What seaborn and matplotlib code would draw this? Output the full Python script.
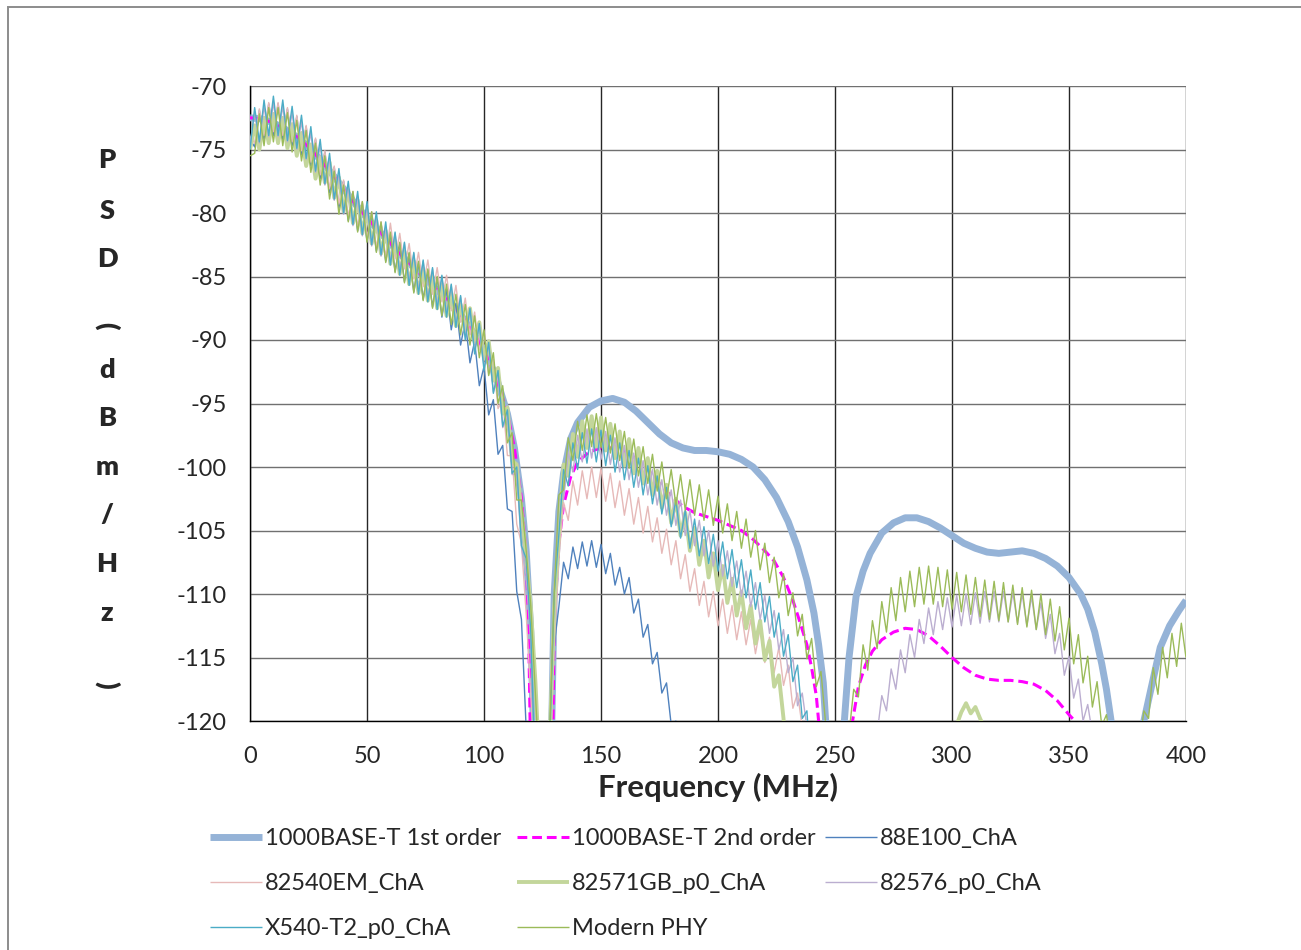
import numpy as np
import matplotlib
matplotlib.use("Agg")
import matplotlib.pyplot as plt
from matplotlib.patches import Rectangle
from matplotlib.ticker import MultipleLocator
import seaborn as sns

# ---------------- data ----------------
# smooth theoretical masks: (frequency MHz, PSD dBm/Hz)
first_f = [0, 5, 10, 15, 20, 25, 30, 35, 40, 45, 50, 55, 60, 65, 70, 75, 80, 85, 90, 95,
           100, 105, 110, 113, 116, 118, 120, 121, 122, 128, 129, 130, 132, 134, 137, 140,
           145, 150, 155, 160, 165, 170, 175, 180, 185, 190, 195, 200, 205, 210, 215, 220,
           225, 230, 234, 238, 241, 243, 245, 246, 247, 253, 254, 256, 259, 262, 265, 270,
           275, 280, 285, 290, 295, 300, 305, 310, 315, 320, 325, 330, 335, 340, 345, 350,
           355, 358, 361, 364, 366, 368, 369, 381, 382, 385, 389, 393, 397, 400]
first_v = [-72.5, -72.6, -72.9, -73.4, -74.0, -74.8, -75.8, -76.9, -78.1, -79.3, -80.4, -81.4,
           -82.4, -83.4, -84.3, -85.2, -86.1, -87.0, -88.0, -89.3, -90.8, -92.8, -95.8, -98.5,
           -102.5, -106.5, -113.0, -120.0, -128.0, -128.0, -120.0, -110.0, -103.5, -100.5,
           -97.8, -96.5, -95.3, -94.8, -94.6, -94.9, -95.6, -96.5, -97.4, -98.1, -98.5, -98.7,
           -98.7, -98.8, -99.0, -99.4, -100.0, -101.0, -102.4, -104.3, -106.3, -108.9, -111.5,
           -114.0, -117.0, -120.0, -128.0, -128.0, -120.0, -115.0, -110.2, -108.2, -106.8,
           -105.2, -104.4, -104.0, -104.0, -104.3, -104.8, -105.4, -106.0, -106.4, -106.7,
           -106.8, -106.7, -106.6, -106.8, -107.2, -107.8, -108.7, -110.0, -111.2, -113.0,
           -115.5, -117.5, -120.0, -128.0, -128.0, -120.0, -117.5, -114.2, -112.5, -111.3, -110.5]

second_f = [0, 5, 10, 15, 20, 25, 30, 35, 40, 45, 50, 55, 60, 65, 70, 75, 80, 85, 90, 95,
            100, 105, 110, 113, 116, 118, 119, 119.7, 120, 129, 129.5, 130, 132, 134, 137,
            140, 145, 150, 155, 160, 165, 170, 175, 180, 185, 190, 195, 200, 205, 210, 215,
            220, 224, 228, 232, 235, 238, 240, 242, 243, 244, 256, 257.5, 260, 263, 266, 270,
            275, 280, 285, 290, 295, 300, 305, 310, 315, 320, 325, 330, 335, 340, 345, 350,
            352.5, 354]
second_v = [-72.5, -72.6, -72.9, -73.4, -74.0, -74.8, -75.8, -76.9, -78.1, -79.3, -80.4, -81.4,
            -82.4, -83.4, -84.3, -85.2, -86.1, -87.0, -88.0, -89.3, -90.8, -92.8, -95.8, -98.5,
            -102.5, -107.0, -112.0, -120.0, -128.0, -128.0, -120.0, -112.0, -106.0, -103.0,
            -100.8, -99.6, -98.8, -98.5, -98.5, -98.8, -99.3, -100.2, -101.3, -102.3, -103.1,
            -103.6, -103.9, -104.2, -104.6, -105.0, -105.7, -106.6, -107.4, -108.7, -110.5,
            -112.2, -114.0, -115.8, -118.0, -120.0, -128.0, -128.0, -120.0, -117.3, -115.6,
            -114.5, -113.6, -113.0, -112.7, -112.8, -113.3, -114.1, -115.0, -115.8, -116.4,
            -116.7, -116.8, -116.8, -116.9, -117.1, -117.6, -118.4, -119.5, -120.0, -128.0]

# measured PHY spectra, one value every 2 MHz starting at 0 MHz
step_mhz = 2
e100_v = [-74.2, -74.8, -71.9, -74.2, -71.4, -73.9, -71.4, -74.2, -71.8, -74.7,
          -72.4, -75.4, -73.2, -76.3, -74.2, -77.3, -75.2, -78.4, -76.4, -79.6,
          -77.5, -80.6, -78.4, -81.4, -79.2, -82.2, -80.0, -83.0, -80.8, -83.8,
          -81.6, -84.6, -82.4, -85.4, -83.2, -86.2, -83.9, -86.8, -84.5, -87.4,
          -85.1, -88.2, -86.0, -89.2, -87.1, -90.4, -88.5, -91.8, -90.1, -93.6,
          -92.1, -95.9, -94.7, -99.0, -98.3, -103.3, -103.5, -109.8, -112.0, -120.5,
          -125.0, -125.0, -125.0, -125.0, -122.0, -114.0, -111.0, -107.5, -108.8, -106.3,
          -108.0, -105.9, -107.8, -105.8, -107.9, -106.1, -108.4, -106.8, -109.3, -107.9,
          -110.0, -108.7, -111.5, -110.4, -113.4, -112.4, -115.5, -114.6, -117.8, -117.0,
          -120.3, -120.0, -125.0]

em82540_v = [-74.0, -74.5, -71.8, -73.9, -71.3, -73.6, -71.3, -73.9, -71.7, -74.4,
             -72.3, -75.1, -73.1, -76.0, -74.1, -77.0, -75.1, -78.1, -76.3, -79.3,
             -77.4, -80.3, -78.3, -81.1, -79.1, -81.9, -79.9, -82.7, -80.7, -83.5,
             -80.8, -83.6, -81.6, -84.4, -82.4, -85.2, -83.1, -85.8, -83.7, -86.4,
             -84.3, -87.0, -84.9, -87.7, -85.7, -88.6, -86.7, -89.6, -87.8, -90.8,
             -89.3, -92.7, -91.5, -95.4, -94.7, -99.1, -99.1, -104.5, -106.0, -111.5,
             -118.0, -125.0, -125.0, -125.0, -125.0, -114.0, -107.2, -102.8, -104.2, -101.1,
             -103.0, -100.3, -102.5, -100.0, -102.4, -100.1, -102.7, -100.5, -103.2, -101.1,
             -103.8, -101.7, -104.5, -102.4, -105.2, -103.1, -105.9, -104.0, -106.8, -104.9,
             -107.7, -105.8, -108.8, -106.9, -109.8, -108.0, -110.9, -109.0, -111.8, -109.8,
             -112.5, -110.4, -113.1, -110.9, -113.6, -111.4, -114.0, -112.0, -114.7, -112.7,
             -115.4, -113.4, -116.2, -114.2, -117.2, -115.6, -119.0, -117.8, -120.5, -125.0]

gb82571_v = [-75.0, -73.1, -75.0, -72.5, -74.5, -72.2, -74.5, -72.5, -74.9, -73.0,
             -75.5, -73.7, -76.3, -74.6, -77.3, -75.6, -77.6, -76.0, -78.8, -77.2,
             -79.9, -78.2, -80.8, -79.0, -81.6, -79.8, -82.4, -80.6, -83.2, -81.4,
             -84.0, -82.2, -84.8, -83.0, -85.6, -83.8, -86.3, -84.4, -86.9, -85.0,
             -87.5, -85.6, -88.1, -86.3, -88.9, -87.2, -89.3, -87.5, -90.2, -88.6,
             -91.5, -90.1, -93.2, -92.2, -95.8, -95.3, -99.5, -99.8, -103.5, -107.0,
             -111.0, -117.0, -125.0, -125.0, -122.0, -111.0, -105.2, -99.8, -100.7, -97.4,
             -99.2, -96.4, -98.5, -96.0, -98.4, -96.1, -98.7, -96.6, -99.3, -97.2,
             -99.9, -97.8, -100.5, -98.5, -101.3, -99.3, -102.2, -100.3, -103.2, -101.4,
             -104.4, -102.5, -105.4, -103.6, -106.6, -104.8, -107.7, -105.8, -108.7, -106.8,
             -109.7, -107.8, -110.7, -108.8, -111.7, -109.8, -112.7, -110.9, -113.9, -112.1,
             -115.2, -113.7, -117.3, -116.4, -119.8, -125.0, -125.0, -125.0, -125.0, -125.0,
             -125.0, -125.0, -125.0, -125.0, -125.0, -125.0, -125.0, -125.0, -125.0, -125.0,
             -125.0, -125.0, -125.0, -125.0, -125.0, -125.0, -125.0, -125.0, -125.0, -125.0,
             -125.0, -125.0, -125.0, -125.0, -125.0, -125.0, -125.0, -125.0, -125.0, -125.0,
             -121.0, -120.3, -119.3, -118.6, -119.4, -118.9, -119.8, -120.6, -121.0, -120.2,
             -121.0, -120.4, -121.0, -120.5, -121.0, -120.3, -121.0, -121.0, -120.4, -121.0,
             -125.0]

p82576_v = [-74.5, -72.2, -74.5, -71.6, -74.0, -71.3, -74.0, -71.6, -74.4, -72.1,
            -75.0, -72.8, -75.8, -73.7, -76.8, -74.7, -77.8, -75.8, -79.0, -77.0,
            -80.1, -78.0, -81.0, -78.8, -81.8, -79.6, -82.6, -80.4, -83.4, -81.2,
            -83.8, -81.6, -84.6, -82.4, -85.4, -83.2, -86.1, -83.8, -86.7, -84.4,
            -87.3, -85.0, -87.9, -85.7, -88.7, -86.6, -89.7, -87.6, -90.8, -88.8,
            -92.1, -90.4, -94.1, -92.8, -96.9, -96.0, -100.6, -100.5, -106.3, -108.5,
            -114.0, -125.0, -125.0, -125.0, -122.0, -110.0, -102.6, -102.5, -98.8, -100.4,
            -97.5, -99.6, -97.0, -99.3, -96.9, -99.4, -97.2, -99.8, -97.7, -100.4,
            -98.3, -101.0, -98.9, -101.6, -99.5, -102.2, -100.2, -103.0, -101.0, -103.8,
            -101.8, -104.6, -102.6, -105.4, -103.4, -106.2, -104.2, -107.0, -105.0, -107.8,
            -105.8, -108.6, -106.6, -109.4, -107.4, -110.2, -108.2, -111.0, -109.1, -112.0,
            -110.1, -113.1, -111.3, -114.4, -112.8, -116.2, -115.0, -118.8, -117.8, -120.5,
            -125.0, -125.0, -125.0, -125.0, -125.0, -125.0, -125.0, -125.0, -125.0, -125.0,
            -125.0, -125.0, -125.0, -125.0, -121.0, -118.0, -119.2, -115.9, -117.5, -114.4,
            -116.2, -113.2, -115.0, -112.0, -113.9, -111.1, -113.2, -110.6, -112.8, -110.3,
            -112.6, -110.1, -112.5, -110.0, -112.4, -109.9, -112.3, -109.8, -112.2, -109.8,
            -112.2, -109.8, -112.2, -109.9, -112.3, -110.0, -112.5, -110.2, -112.8, -110.7,
            -113.5, -111.6, -114.7, -113.1, -116.4, -114.9, -118.2, -116.7, -120.0, -118.7,
            -121.0, -125.0]

x540_v = [-75.0, -71.7, -74.4, -71.1, -73.9, -70.8, -73.9, -71.1, -74.3, -71.6,
          -74.9, -72.3, -75.7, -73.2, -76.7, -74.2, -77.7, -75.3, -78.9, -76.5,
          -80.0, -77.5, -80.9, -78.3, -81.7, -79.1, -82.5, -79.9, -83.3, -80.7,
          -84.1, -81.5, -84.9, -82.3, -85.7, -83.1, -86.4, -83.7, -87.0, -84.3,
          -87.6, -84.9, -88.2, -85.6, -89.0, -86.5, -90.0, -87.5, -91.1, -88.7,
          -92.4, -90.2, -94.2, -92.4, -96.8, -95.5, -100.5, -100.0, -106.2, -107.2,
          -113.0, -125.0, -125.0, -125.0, -122.0, -110.0, -105.3, -100.2, -101.5, -98.1,
          -100.2, -97.3, -99.7, -97.0, -99.6, -97.1, -99.9, -97.5, -100.4, -98.1,
          -101.0, -98.7, -101.6, -99.3, -102.2, -99.9, -102.9, -100.7, -103.7, -101.6,
          -104.7, -102.6, -105.6, -103.4, -106.4, -104.1, -107.0, -104.7, -107.6, -105.3,
          -108.2, -105.9, -108.8, -106.5, -109.5, -107.3, -110.3, -108.1, -111.2, -109.1,
          -112.2, -110.2, -113.4, -111.5, -114.9, -113.2, -116.9, -115.6, -119.8, -119.2,
          -125.0]

modern_v = [-75.5, -75.3, -72.2, -74.7, -71.7, -74.4, -71.7, -74.7, -72.1, -75.2,
            -72.7, -75.9, -73.5, -76.8, -74.5, -77.8, -75.5, -78.9, -76.7, -80.1,
            -77.8, -80.7, -78.3, -81.5, -79.1, -82.3, -79.9, -83.1, -80.7, -83.9,
            -81.5, -84.7, -82.3, -85.5, -83.1, -86.3, -83.8, -86.9, -84.4, -87.5,
            -85.0, -88.1, -85.6, -88.8, -86.4, -89.6, -87.2, -90.4, -88.1, -91.4,
            -89.2, -92.8, -91.0, -95.0, -93.6, -98.1, -97.3, -102.6, -102.6, -106.5,
            -111.0, -118.0, -125.0, -125.0, -121.0, -110.0, -102.2, -101.8, -97.7, -99.5,
            -96.4, -98.7, -95.9, -98.4, -95.8, -98.5, -96.1, -98.9, -96.6, -99.5,
            -97.2, -100.1, -97.8, -100.7, -98.4, -101.3, -99.0, -101.9, -99.6, -102.5,
            -100.2, -103.0, -100.6, -103.4, -101.0, -103.8, -101.4, -104.2, -101.8, -104.6,
            -102.3, -105.2, -102.9, -105.8, -103.5, -106.4, -104.1, -107.1, -105.0, -108.1,
            -106.0, -109.1, -107.1, -110.3, -108.4, -111.7, -109.9, -113.3, -111.6, -115.1,
            -113.5, -117.3, -116.1, -120.2, -121.5, -125.0, -125.0, -125.0, -121.0, -117.5,
            -118.1, -114.0, -116.0, -112.1, -114.3, -110.6, -113.0, -109.5, -112.1, -108.7,
            -111.4, -108.2, -111.0, -107.9, -110.8, -107.8, -110.8, -107.9, -111.0, -108.1,
            -111.2, -108.3, -111.4, -108.5, -111.6, -108.7, -111.8, -108.9, -112.0, -109.0,
            -112.1, -109.1, -112.2, -109.3, -112.4, -109.5, -112.6, -109.7, -112.8, -110.0,
            -113.2, -110.4, -113.7, -111.0, -114.4, -111.9, -115.5, -113.2, -117.0, -114.9,
            -118.9, -116.9, -120.4, -119.5, -122.0, -125.0, -125.0, -125.0, -125.0, -125.0,
            -122.0, -119.2, -119.8, -115.8, -117.9, -114.2, -116.6, -113.1, -115.7, -112.3,
            -115.0]

x_ticks = [0, 50, 100, 150, 200, 250, 300, 350, 400]
y_ticks = [-120, -115, -110, -105, -100, -95, -90, -85, -80, -75, -70]
x_title = "Frequency (MHz)"
y_title = "PSD (dBm/Hz)"

# ---------------- styling ----------------
sns.set_style("white")
plt.rcParams["font.family"] = ["Lato", "DejaVu Sans"]

W, H = 1301, 950
fig = plt.figure(figsize=(W / 100, H / 100), dpi=100)
ax = fig.add_axes([250 / W, 1 - 721 / H, (1186 - 250) / W, (721 - 86) / H])


def msr_x(v):
    return np.arange(len(v)) * step_mhz


series = [
    ("1000BASE-T 1st order", first_f, first_v, "#95B3D7", 5.0),
    ("1000BASE-T 2nd order", second_f, second_v, "#FF00FF", 2.2),
    ("88E100_ChA", msr_x(e100_v), e100_v, "#4F81BD", 1.0),
    ("82540EM_ChA", msr_x(em82540_v), em82540_v, "#E6B9B8", 1.0),
    ("82571GB_p0_ChA", msr_x(gb82571_v), gb82571_v, "#C3D69B", 2.8),
    ("82576_p0_ChA", msr_x(p82576_v), p82576_v, "#BBAED0", 1.0),
    ("X540-T2_p0_ChA", msr_x(x540_v), x540_v, "#4BACC6", 1.0),
    ("Modern PHY", msr_x(modern_v), modern_v, "#9BBB59", 1.0),
]

handles = {}
for name, xs, ys, col, lw in series:
    sns.lineplot(x=np.asarray(xs, dtype=float), y=np.asarray(ys, dtype=float), ax=ax,
                 color=col, linewidth=lw, label=name, estimator=None, sort=False,
                 solid_joinstyle="round", solid_capstyle="butt")
    line = ax.lines[-1]
    if name == "1000BASE-T 2nd order":
        line.set_dashes((3.2, 1.6))
    handles[name] = line

if ax.get_legend() is not None:
    ax.get_legend().remove()

ax.set_xlim(0, 400)
ax.set_ylim(-120, -70)
ax.set_xticks(x_ticks)
ax.set_yticks(y_ticks)
ax.xaxis.set_minor_locator(MultipleLocator(10))
ax.set_axisbelow(True)
ax.grid(False)
for xv in x_ticks:
    ax.axvline(xv, color="#262626", lw=1.0, zorder=0)
for yv in y_ticks:
    ax.axhline(yv, color="#707070", lw=1.0, zorder=0)

for s in ["top", "right"]:
    ax.spines[s].set_visible(False)
for s in ["left", "bottom"]:
    ax.spines[s].set_color("#000000")
    ax.spines[s].set_linewidth(1.0)
    ax.spines[s].set_zorder(0.5)

ax.tick_params(axis="x", which="major", direction="out", length=6, width=1,
               color="#000000", pad=12, labelsize=17)
ax.tick_params(axis="x", which="minor", direction="in", length=4.5, width=1,
               color="#000000")
ax.tick_params(axis="y", which="major", direction="out", length=6, width=1,
               color="#000000", pad=11, labelsize=17)
ax.set_yticklabels([f"{v}" for v in y_ticks])

ax.set_ylabel("")
ax.set_xlabel(x_title, fontsize=22.5, fontweight="bold")
ax.xaxis.set_label_coords(0.5, (721 - 787) / (721 - 86))
ax.xaxis.label.set_va("center")

# stacked y-axis title (Excel "stacked" text)
letter_y = [160, 211, 259, 326, 370, 418, 467, 515, 564, 613, 685]
chars = [c for c in y_title if c != " "]
for c, yp in zip(chars, letter_y):
    rot = -90 if c in "()" else 0
    fig.text(107 / W, 1 - yp / H, c, ha="center", va="center", fontsize=19.5,
             fontweight="heavy", rotation=rot)

# outer chart border (only top/left visible in the crop)
fig.patches.append(Rectangle((8 / W, -0.1), 1.2, 1 - 7 / H + 0.1, transform=fig.transFigure,
                             fill=False, edgecolor="#8c8c8c", lw=1.4))

# legend laid out row-wise in three columns, like Excel
cols = [
    (210, ["1000BASE-T 1st order", "82540EM_ChA", "X540-T2_p0_ChA"]),
    (517, ["1000BASE-T 2nd order", "82571GB_p0_ChA", "Modern PHY"]),
    (825, ["88E100_ChA", "82576_p0_ChA"]),
]
for xpx, names in cols:
    fig.legend([handles[n] for n in names], names, loc="upper left",
               bbox_to_anchor=(xpx / W, 1 - 828 / H), frameon=False, fontsize=17,
               handlelength=2.2, handletextpad=0.13, borderpad=0, borderaxespad=0,
               labelspacing=1.02)

fig.savefig("out.png", dpi=100)
